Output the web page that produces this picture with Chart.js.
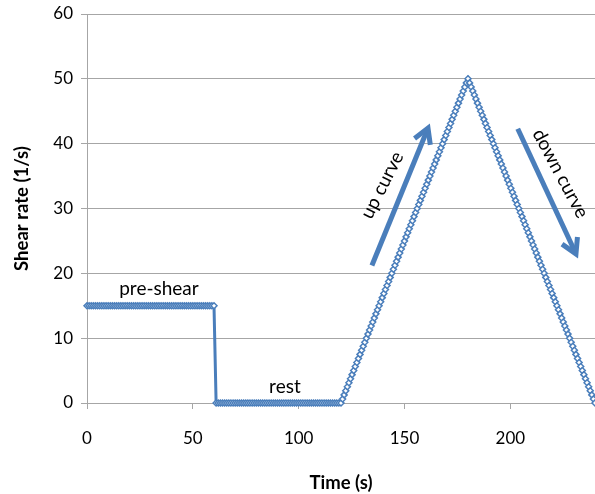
<!DOCTYPE html>
<html>
<head>
<meta charset="utf-8">
<script src="https://cdn.jsdelivr.net/npm/chart.js@4/dist/chart.umd.min.js"></script>
<style>
  html, body { margin: 0; padding: 0; background: #fff; }
  #wrap { width: 595px; height: 494px; position: relative; }
</style>
</head>
<body>
<div id="wrap"><canvas id="shearChart"></canvas></div>
<script>
// SHEAR PROTOCOL: pre-shear, rest, up curve, down curve
const timeSec = [
    0, 1, 2, 3, 4, 5, 6, 7, 8, 9, 10, 11, 12, 13, 14, 15, 16, 17, 18, 19,
    20, 21, 22, 23, 24, 25, 26, 27, 28, 29, 30, 31, 32, 33, 34, 35, 36, 37, 38, 39,
    40, 41, 42, 43, 44, 45, 46, 47, 48, 49, 50, 51, 52, 53, 54, 55, 56, 57, 58, 59,
    60, 61, 62, 63, 64, 65, 66, 67, 68, 69, 70, 71, 72, 73, 74, 75, 76, 77, 78, 79,
    80, 81, 82, 83, 84, 85, 86, 87, 88, 89, 90, 91, 92, 93, 94, 95, 96, 97, 98, 99,
    100, 101, 102, 103, 104, 105, 106, 107, 108, 109, 110, 111, 112, 113, 114, 115, 116, 117, 118, 119,
    120, 120.75, 121.5, 122.25, 123, 123.75, 124.5, 125.25,
    126, 126.75, 127.5, 128.25, 129, 129.75, 130.5, 131.25,
    132, 132.75, 133.5, 134.25, 135, 135.75, 136.5, 137.25,
    138, 138.75, 139.5, 140.25, 141, 141.75, 142.5, 143.25,
    144, 144.75, 145.5, 146.25, 147, 147.75, 148.5, 149.25,
    150, 150.75, 151.5, 152.25, 153, 153.75, 154.5, 155.25,
    156, 156.75, 157.5, 158.25, 159, 159.75, 160.5, 161.25,
    162, 162.75, 163.5, 164.25, 165, 165.75, 166.5, 167.25,
    168, 168.75, 169.5, 170.25, 171, 171.75, 172.5, 173.25,
    174, 174.75, 175.5, 176.25, 177, 177.75, 178.5, 179.25,
    180, 180.75, 181.5, 182.25, 183, 183.75, 184.5, 185.25,
    186, 186.75, 187.5, 188.25, 189, 189.75, 190.5, 191.25,
    192, 192.75, 193.5, 194.25, 195, 195.75, 196.5, 197.25,
    198, 198.75, 199.5, 200.25, 201, 201.75, 202.5, 203.25,
    204, 204.75, 205.5, 206.25, 207, 207.75, 208.5, 209.25,
    210, 210.75, 211.5, 212.25, 213, 213.75, 214.5, 215.25,
    216, 216.75, 217.5, 218.25, 219, 219.75, 220.5, 221.25,
    222, 222.75, 223.5, 224.25, 225, 225.75, 226.5, 227.25,
    228, 228.75, 229.5, 230.25, 231, 231.75, 232.5, 233.25,
    234, 234.75, 235.5, 236.25, 237, 237.75, 238.5, 239.25,
    240
];

const shearRate = [
    // pre-shear (0-60 s)
    15, 15, 15, 15, 15, 15, 15, 15, 15, 15, 15, 15, 15, 15, 15, 15, 15, 15, 15, 15,
    15, 15, 15, 15, 15, 15, 15, 15, 15, 15, 15, 15, 15, 15, 15, 15, 15, 15, 15, 15,
    15, 15, 15, 15, 15, 15, 15, 15, 15, 15, 15, 15, 15, 15, 15, 15, 15, 15, 15, 15,
    15,
    // rest (61-119 s)
    0, 0, 0, 0, 0, 0, 0, 0, 0, 0, 0, 0, 0, 0, 0, 0, 0, 0, 0, 0,
    0, 0, 0, 0, 0, 0, 0, 0, 0, 0, 0, 0, 0, 0, 0, 0, 0, 0, 0, 0,
    0, 0, 0, 0, 0, 0, 0, 0, 0, 0, 0, 0, 0, 0, 0, 0, 0, 0, 0,
    // up curve
    0, 0.625, 1.25, 1.875, 2.5, 3.125, 3.75, 4.375,
    5, 5.625, 6.25, 6.875, 7.5, 8.125, 8.75, 9.375,
    10, 10.625, 11.25, 11.875, 12.5, 13.125, 13.75, 14.375,
    15, 15.625, 16.25, 16.875, 17.5, 18.125, 18.75, 19.375,
    20, 20.625, 21.25, 21.875, 22.5, 23.125, 23.75, 24.375,
    25, 25.625, 26.25, 26.875, 27.5, 28.125, 28.75, 29.375,
    30, 30.625, 31.25, 31.875, 32.5, 33.125, 33.75, 34.375,
    35, 35.625, 36.25, 36.875, 37.5, 38.125, 38.75, 39.375,
    40, 40.625, 41.25, 41.875, 42.5, 43.125, 43.75, 44.375,
    45, 45.625, 46.25, 46.875, 47.5, 48.125, 48.75, 49.375,
    50,
    // down curve
    49.375, 48.75, 48.125, 47.5, 46.875, 46.25, 45.625, 45,
    44.375, 43.75, 43.125, 42.5, 41.875, 41.25, 40.625, 40,
    39.375, 38.75, 38.125, 37.5, 36.875, 36.25, 35.625, 35,
    34.375, 33.75, 33.125, 32.5, 31.875, 31.25, 30.625, 30,
    29.375, 28.75, 28.125, 27.5, 26.875, 26.25, 25.625, 25,
    24.375, 23.75, 23.125, 22.5, 21.875, 21.25, 20.625, 20,
    19.375, 18.75, 18.125, 17.5, 16.875, 16.25, 15.625, 15,
    14.375, 13.75, 13.125, 12.5, 11.875, 11.25, 10.625, 10,
    9.375, 8.75, 8.125, 7.5, 6.875, 6.25, 5.625, 5,
    4.375, 3.75, 3.125, 2.5, 1.875, 1.25, 0.625, 0
];

const xTickValues = [0, 50, 100, 150, 200];
const yTickValues = [0, 10, 20, 30, 40, 50, 60];

const BLUE = "#4a7ebb";
const GRID = "#a6a6a6";
const FONT = "Lato, 'Open Sans', sans-serif";

// Text labels and arrows placed in data units
const textNotes = [
    { text: "pre-shear", x: 34, y: 17.6, angle: 0 },
    { text: "rest", x: 93.5, y: 2.5, angle: 0 },
    { text: "up curve", x: 139.5, y: 33.6, angle: -63 },
    { text: "down curve", x: 223.6, y: 35.4, angle: 62 }
];
const arrowNotes = [
    { from: [134.6, 21.2], to: [161.1, 42.4] },
    { from: [203.5, 42.3], to: [231, 23] }
];

const notesPlugin = {
    id: "notes",
    afterDatasetsDraw(chart) {
        const { ctx, scales: { x, y } } = chart;
        ctx.save();

        // arrows
        ctx.strokeStyle = BLUE;
        ctx.lineWidth = 5;
        ctx.lineCap = "butt";
        ctx.lineJoin = "miter";
        arrowNotes.forEach(a => {
            const x0 = x.getPixelForValue(a.from[0]), y0 = y.getPixelForValue(a.from[1]);
            const x1 = x.getPixelForValue(a.to[0]), y1 = y.getPixelForValue(a.to[1]);
            const ang = Math.atan2(y1 - y0, x1 - x0);
            ctx.beginPath();
            ctx.moveTo(x0, y0);
            ctx.lineTo(x1 - 2 * Math.cos(ang), y1 - 2 * Math.sin(ang));
            ctx.stroke();
            const len = 17, spread = Math.PI / 6;
            ctx.beginPath();
            ctx.moveTo(x1 - len * Math.cos(ang - spread), y1 - len * Math.sin(ang - spread));
            ctx.lineTo(x1, y1);
            ctx.lineTo(x1 - len * Math.cos(ang + spread), y1 - len * Math.sin(ang + spread));
            ctx.stroke();
        });

        // text
        ctx.fillStyle = "#000";
        ctx.font = "19px " + FONT;
        ctx.textAlign = "center";
        ctx.textBaseline = "middle";
        textNotes.forEach(n => {
            ctx.save();
            ctx.translate(x.getPixelForValue(n.x), y.getPixelForValue(n.y));
            ctx.rotate(n.angle * Math.PI / 180);
            ctx.fillText(n.text, 0, 0);
            ctx.restore();
        });
        ctx.restore();
    }
};

const ctx = document.getElementById("shearChart").getContext("2d");
new Chart(ctx, {
    type: "line",
    data: {
        datasets: [{
            data: timeSec.map((t, i) => ({ x: t, y: shearRate[i] })),
            borderColor: BLUE,
            borderWidth: 3,
            pointStyle: "rectRot",
            pointRadius: 3,
            pointBorderWidth: 1.5,
            pointBorderColor: BLUE,
            pointBackgroundColor: "#fff",
            tension: 0,
            clip: false
        }]
    },
    options: {
        responsive: true,
        maintainAspectRatio: false,
        animation: false,
        layout: { autoPadding: false, padding: { top: 14, right: 0, left: 0, bottom: 0 } },
        plugins: {
            legend: { display: false },
            tooltip: { enabled: false }
        },
        scales: {
            x: {
                type: "linear",
                min: 0,
                max: 240,
                afterBuildTicks: s => { s.ticks = xTickValues.map(v => ({ value: v })); },
                afterFit: s => {
                    s.height = 91;
                    s.paddingLeft = 0;
                    s.paddingRight = 0;
                },
                grid: { drawOnChartArea: false, drawTicks: true, tickLength: 6, color: GRID },
                border: { color: GRID, width: 1 },
                ticks: { color: "#000", font: { family: FONT, size: 17 }, padding: 19, maxRotation: 0 },
                title: {
                    display: true,
                    text: "Time (s)",
                    color: "#000",
                    font: { family: FONT, size: 18.5, weight: "bold" },
                    padding: { top: 10, bottom: 0 }
                }
            },
            y: {
                min: 0,
                max: 60,
                afterBuildTicks: s => { s.ticks = yTickValues.map(v => ({ value: v })); },
                afterFit: s => {
                    s.width = 87;
                    s.paddingTop = 0;
                    s.paddingBottom = 0;
                },
                grid: { color: GRID, tickLength: 6, drawTicks: true },
                border: { color: GRID, width: 1 },
                ticks: { color: "#000", font: { family: FONT, size: 17 }, padding: 8 },
                title: {
                    display: true,
                    text: "Shear rate (1/s)",
                    color: "#000",
                    font: { family: FONT, size: 18.5, weight: "bold" },
                    padding: { top: 11, bottom: 4 }
                }
            }
        }
    },
    plugins: [notesPlugin]
});
</script>
</body>
</html>
